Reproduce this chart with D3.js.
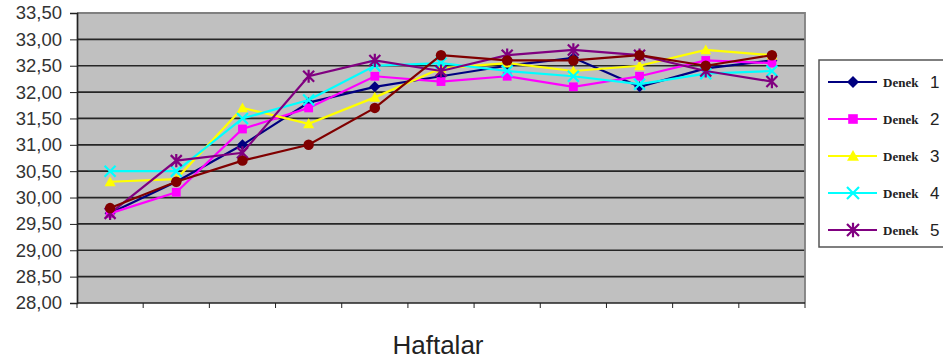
<!DOCTYPE html>
<html>
<head>
<meta charset="utf-8">
<script src="https://cdn.jsdelivr.net/npm/d3@7"></script>
<style>
  html, body { margin: 0; padding: 0; background: #fff; }
  svg { display: block; }
</style>
</head>
<body>
<svg id="chart" width="943" height="363"></svg>
<script>
// Weekly measurements (Haftalar) for each subject (Denek)
const weeks = [1, 2, 3, 4, 5, 6, 7, 8, 9, 10, 11];
const denek1 = [29.7, 30.3, 31.0, 31.8, 32.1, 32.3, 32.5, 32.65, 32.1, 32.45, 32.6];
const denek2 = [29.7, 30.1, 31.3, 31.7, 32.3, 32.2, 32.3, 32.1, 32.3, 32.6, 32.55];
const denek3 = [30.3, 30.35, 31.7, 31.4, 31.9, 32.45, 32.55, 32.4, 32.5, 32.8, 32.7];
const denek4 = [30.5, 30.5, 31.5, 31.85, 32.5, 32.55, 32.4, 32.3, 32.15, 32.35, 32.4];
const denek5 = [29.7, 30.7, 30.85, 32.3, 32.6, 32.4, 32.7, 32.8, 32.7, 32.4, 32.2];
const denek6 = [29.8, 30.3, 30.7, 31.0, 31.7, 32.7, 32.6, 32.6, 32.7, 32.5, 32.7];
const yTicks = [28, 28.5, 29, 29.5, 30, 30.5, 31, 31.5, 32, 32.5, 33, 33.5];
const seriesNames = ["Denek 1", "Denek 2", "Denek 3", "Denek 4", "Denek 5", "Denek 6"];
const xTitle = "Haftalar";

const series = [
  { name: seriesNames[0], values: denek1, color: "#000080", marker: "diamond", legend: true },
  { name: seriesNames[1], values: denek2, color: "#ff00ff", marker: "square", legend: true },
  { name: seriesNames[2], values: denek3, color: "#ffff00", marker: "triangle", legend: true },
  { name: seriesNames[3], values: denek4, color: "#00ffff", marker: "x", legend: true },
  { name: seriesNames[4], values: denek5, color: "#800080", marker: "star", legend: true },
  { name: seriesNames[5], values: denek6, color: "#800000", marker: "circle", legend: false }
];

const svg = d3.select("#chart");
const plot = { left: 77, right: 805, top: 13, bottom: 303 };

const x = d3.scaleBand().domain(weeks).range([plot.left, plot.right]).paddingInner(0).paddingOuter(0);
const y = d3.scaleLinear().domain([28, 33.5]).range([plot.bottom, plot.top]);
const cx = d => x(d) + x.bandwidth() / 2;

// plot area background
svg.append("rect")
  .attr("x", plot.left).attr("y", plot.top)
  .attr("width", plot.right - plot.left).attr("height", plot.bottom - plot.top)
  .attr("fill", "#c0c0c0");

// horizontal gridlines
svg.append("g").selectAll("line")
  .data(yTicks.filter(v => v > 28 && v < 33.5))
  .join("line")
  .attr("x1", plot.left).attr("x2", plot.right)
  .attr("y1", d => y(d)).attr("y2", d => y(d))
  .attr("stroke", "#262626").attr("stroke-width", 1.7);

// plot area frame (top and right)
svg.append("path")
  .attr("d", `M${plot.left},${plot.top}H${plot.right}V${plot.bottom}`)
  .attr("fill", "none").attr("stroke", "#808080").attr("stroke-width", 1.8);

// y axis
const fmt = d => d3.format(".2f")(d).replace(".", ",");
const yAxis = svg.append("g")
  .attr("transform", `translate(${plot.left},0)`)
  .call(d3.axisLeft(y).tickValues(yTicks).tickFormat(fmt).tickSize(7).tickPadding(8));
yAxis.select(".domain").attr("stroke", "#222").attr("stroke-width", 1.7);
yAxis.selectAll(".tick line").attr("stroke", "#222");
yAxis.selectAll("text")
  .attr("font-family", "Arial, 'Liberation Sans', sans-serif")
  .attr("font-size", 18.5).attr("fill", "#333");

// x axis: ticks on category boundaries, no labels
const xBoundaries = weeks.map(d => x(d)).concat([plot.right]);
const xAxis = svg.append("g");
xAxis.append("line")
  .attr("x1", plot.left).attr("x2", plot.right)
  .attr("y1", plot.bottom).attr("y2", plot.bottom)
  .attr("stroke", "#222").attr("stroke-width", 1.7);
xAxis.selectAll("line.tick")
  .data(xBoundaries)
  .join("line").attr("class", "tick")
  .attr("x1", d => d).attr("x2", d => d)
  .attr("y1", plot.bottom).attr("y2", plot.bottom + 5)
  .attr("stroke", "#222");

// x axis title
svg.append("text")
  .attr("x", 438).attr("y", 354)
  .attr("text-anchor", "middle")
  .attr("font-family", "Arial, 'Liberation Sans', sans-serif")
  .attr("font-size", 26).attr("fill", "#222")
  .text(xTitle);

// marker shapes
function drawMarker(g, type, color, size) {
  const s = size;
  if (type === "diamond") {
    g.append("path").attr("d", `M0,${-s}L${s},0L0,${s}L${-s},0Z`).attr("fill", color);
  } else if (type === "square") {
    g.append("rect").attr("x", -s * 0.8).attr("y", -s * 0.8).attr("width", s * 1.6).attr("height", s * 1.6).attr("fill", color);
  } else if (type === "triangle") {
    g.append("path").attr("d", `M0,${-s}L${s},${s * 0.8}L${-s},${s * 0.8}Z`).attr("fill", color);
  } else if (type === "x") {
    g.append("path").attr("d", `M${-s},${-s}L${s},${s}M${-s},${s}L${s},${-s}`)
      .attr("stroke", color).attr("stroke-width", 2.2);
  } else if (type === "star") {
    g.append("path").attr("d", `M${-s},${-s}L${s},${s}M${-s},${s}L${s},${-s}M0,${-s * 1.2}L0,${s * 1.2}`)
      .attr("stroke", color).attr("stroke-width", 2.2);
  } else if (type === "circle") {
    g.append("circle").attr("r", s * 0.95).attr("fill", color);
  }
}

// series lines and markers
const line = d3.line().x((d, i) => cx(weeks[i])).y(d => y(d));
series.forEach(s => {
  const g = svg.append("g");
  g.append("path")
    .attr("d", line(s.values))
    .attr("fill", "none").attr("stroke", s.color).attr("stroke-width", 2.2);
  s.values.forEach((v, i) => {
    const m = g.append("g").attr("transform", `translate(${cx(weeks[i])},${y(v)})`);
    drawMarker(m, s.marker, s.color, 5.5);
  });
});

// legend
const legendItems = series.filter(s => s.legend);
const legend = svg.append("g");
legend.append("rect")
  .attr("x", 819).attr("y", 60).attr("width", 140).attr("height", 187)
  .attr("fill", "#fff").attr("stroke", "#555").attr("stroke-width", 1.5);
const ly = d3.scalePoint().domain(legendItems.map(d => d.name)).range([82, 230]);
legendItems.forEach(s => {
  const row = legend.append("g").attr("transform", `translate(0,${ly(s.name)})`);
  row.append("line").attr("x1", 828).attr("x2", 877).attr("y1", 0).attr("y2", 0)
    .attr("stroke", s.color).attr("stroke-width", 2.2);
  const m = row.append("g").attr("transform", "translate(853,0)");
  drawMarker(m, s.marker, s.color, 6);
  const parts = s.name.split(" ");
  row.append("text").attr("x", 883).attr("y", 5)
    .attr("font-family", "'Liberation Serif', 'Times New Roman', serif")
    .attr("font-weight", "bold").attr("font-size", 13).attr("fill", "#222")
    .text(parts[0]);
  row.append("text").attr("x", 930).attr("y", 6)
    .attr("font-family", "Arial, 'Liberation Sans', sans-serif")
    .attr("font-size", 17).attr("fill", "#222")
    .text(parts[1]);
});
</script>
</body>
</html>
